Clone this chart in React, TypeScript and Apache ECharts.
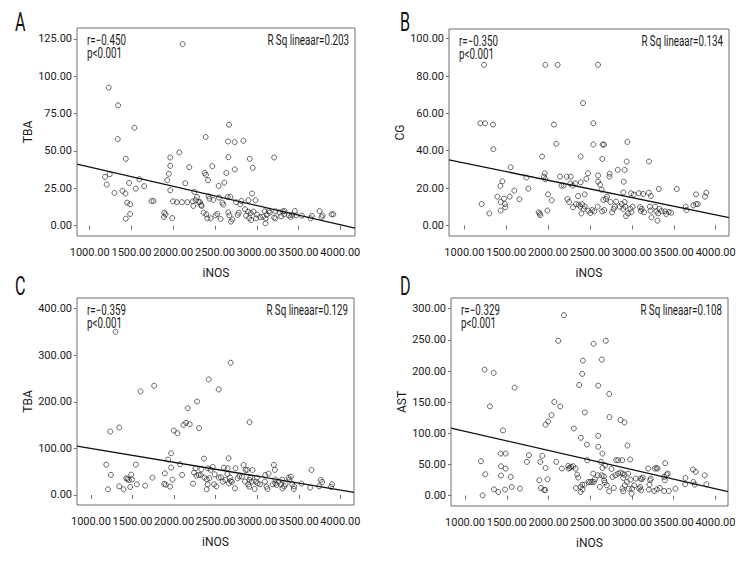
import React, { useEffect, useRef } from "react";
import * as echarts from "echarts";

// ---------- data ----------
const xTicks = [1000, 1500, 2000, 2500, 3000, 3500, 4000];
const yTicksA = [0, 25, 50, 75, 100, 125];
const yTicksB = [0, 20, 40, 60, 80, 100];
const yTicksC = [0, 100, 200, 300, 400];
const yTicksD = [0, 50, 100, 150, 200, 250, 300];

const panelLetters = ["A", "B", "C", "D"];
const yNames = ["TBA", "CG", "TBA", "AST"];
const xName = "iNOS";
const rTexts = ["r=\u22120.450", "r=\u22120.350", "r=\u22120.359", "r=\u22120.329"];
const pTexts = ["p<0.001", "p<0.001", "p<0.001", "p<0.001"];
const rsqTexts = ["R Sq lineaar=0.203", "R Sq lineaar=0.134", "R Sq lineaar=0.129", "R Sq lineaar=0.108"];

// fit line end points [x, y]
const fitA = [[848, 41.1], [4176, -1.6]];
const fitB = [[817, 35.1], [4159, 4.1]];
const fitC = [[832, 104.7], [4164, 5.7]];
const fitD = [[832, 108.4], [4151, 6.4]];

const aX = [2112,1228,1340,1536,1336,1432,1184,1240,1204,1296,1392,1428,1472,1448,1484,1432,1484,1552,1596,1652,1740,1764,1892,1888,1908,1928,1948,1964,1964,1964,1988,1996,2044,2072,2104,2144,2168,2192,2232,2240,2252,2268,2284,2304,2320,2332,2340,2364,2376,2388,2392,2396,2408,2416,2424,2432,2448,2468,2480,2508,2528,2544,2548,2568,2588,2600,2612,2636,2652,2656,2660,2660,2668,2672,2684,2692,2708,2736,2736,2752,2772,2784,2804,2816,2840,2860,2872,2896,2900,2908,2916,2928,2932,2944,2952,2960,2984,2992,3004,3040,3076,3096,3104,3108,3120,3144,3156,3208,3208,3224,3224,3272,3292,3312,3332,3328,3384,3404,3424,3456,3472,3540,3644,3660,3752,3776,3788,3896,3916];
const aY = [121.4,92.3,80.5,65.5,57.9,44.7,32.6,34.4,27.5,21.9,23.3,21.5,28.6,15.4,14.3,4.7,7.8,24.8,31.1,26.4,16.5,16.5,8.7,5.8,7.6,30.4,34.7,45.6,40.0,23.7,5.1,16.3,15.7,49.0,15.7,28.4,15.7,39.1,16.3,13.2,22.6,17.0,19.2,15.9,15.7,13.9,13.2,8.7,35.3,59.3,34.0,7.6,4.9,30.4,19.7,18.1,4.9,39.8,17.2,6.9,7.8,26.6,18.8,4.5,15.4,14.1,28.8,35.3,19.2,56.3,45.8,8.9,67.5,6.9,19.2,2.7,4.2,55.9,37.6,15.7,7.2,8.7,14.3,16.5,56.8,11.0,6.7,9.4,17.0,5.1,44.7,8.5,3.8,21.5,38.7,9.4,17.0,4.9,7.4,5.8,6.0,9.6,1.6,4.7,7.4,9.6,8.7,45.6,5.4,4.9,9.6,8.9,6.3,9.6,9.8,7.6,6.9,5.8,7.2,9.8,6.9,6.7,4.9,6.5,9.8,5.8,6.9,7.6,7.6];

const bX = [1235,1967,2114,2596,1191,1247,1342,2070,2417,2540,1346,2098,2540,2651,2667,2946,1553,1927,2389,2647,2938,3204,1207,1298,1394,1430,1454,1434,1434,1473,1485,1489,1541,1597,1657,1740,1764,1887,1899,1907,1951,1959,1967,1991,1999,2042,2142,2158,2186,2222,2230,2250,2270,2265,2293,2297,2325,2333,2357,2365,2385,2389,2397,2405,2425,2437,2437,2456,2476,2480,2504,2524,2552,2591,2596,2596,2620,2640,2644,2659,2671,2691,2703,2731,2735,2743,2763,2783,2795,2811,2831,2855,2879,2898,2902,2898,2914,2914,2922,2930,2954,2982,2990,2994,3010,3022,3082,3098,3106,3118,3134,3146,3202,3214,3226,3222,3234,3277,3293,3305,3313,3321,3329,3353,3397,3409,3440,3468,3536,3642,3650,3734,3766,3766,3786,3873,3889];
const bY = [86.0,86.0,86.0,86.0,54.7,54.7,54.0,54.0,65.5,54.7,40.8,43.7,43.3,43.3,43.3,44.7,31.1,36.9,36.9,35.6,34.2,34.2,11.4,6.4,15.4,21.1,23.6,12.5,7.9,14.3,11.4,9.7,15.4,18.6,14.0,25.6,19.7,7.0,6.3,5.5,26.1,27.9,24.7,7.9,16.6,13.4,26.1,21.3,21.3,26.1,14.1,12.5,26.1,22.4,21.3,9.7,22.5,11.4,15.7,11.1,10.0,23.1,6.4,11.3,8.8,16.6,10.2,24.9,27.9,7.9,6.6,8.2,7.5,10.0,26.7,23.4,21.8,19.1,7.5,13.6,8.2,14.1,15.4,26.1,27.7,12.5,7.0,8.8,10.0,12.7,29.7,10.0,11.4,8.8,23.4,17.7,29.7,12.5,10.0,5.0,6.4,8.9,17.2,7.0,10.0,16.5,17.2,9.7,7.7,8.8,16.8,7.0,17.5,10.0,15.7,7.9,4.3,10.0,7.5,2.5,6.4,19.5,8.8,7.7,7.5,6.1,7.2,6.8,19.5,10.0,8.2,10.7,11.4,16.6,11.4,15.4,17.5];

const cX = [1296,1596,1760,1232,1340,1996,2040,2164,2276,2112,2144,2188,2300,2416,2536,2680,2908,1184,1240,1204,1340,1392,1424,1440,1456,1472,1484,1492,1540,1552,1652,1740,1888,1880,1900,1928,1952,1964,1964,1980,2072,2096,2228,2240,2256,2268,2296,2320,2328,2360,2364,2392,2392,2404,2408,2424,2440,2464,2480,2488,2508,2536,2564,2588,2600,2616,2640,2644,2656,2660,2672,2680,2696,2732,2740,2764,2784,2816,2836,2852,2860,2880,2892,2904,2908,2916,2936,2944,2968,2984,2996,3004,3032,3092,3096,3112,3124,3136,3188,3200,3212,3216,3220,3232,3256,3284,3300,3304,3324,3340,3376,3388,3404,3420,3440,3444,3532,3636,3652,3744,3764,3780,3888,3900];
const cY = [350.5,222.2,234.4,136.2,144.8,138.3,132.6,186.4,200.7,150.5,154.8,152.0,143.4,248.0,226.5,283.9,156.3,65.2,43.0,12.2,18.6,12.2,35.8,34.4,32.3,17.2,43.7,33.0,65.2,22.9,20.1,37.3,46.6,23.7,22.2,76.0,17.9,58.8,89.6,33.0,65.9,43.0,24.4,48.0,57.3,41.6,43.0,43.0,55.2,78.1,37.3,12.2,33.7,22.9,57.3,35.8,53.8,60.2,22.9,44.4,18.6,37.3,38.0,28.7,58.8,32.3,45.2,57.3,78.8,25.1,37.3,30.1,28.0,14.3,57.3,35.8,40.1,39.4,64.5,28.7,53.8,53.8,22.9,17.9,32.3,37.3,28.7,53.8,12.9,28.7,37.3,25.1,22.9,28.7,43.0,17.9,12.9,45.9,22.9,64.5,53.8,25.1,33.0,21.5,28.7,22.9,33.0,14.3,18.6,22.9,37.3,33.0,39.4,22.9,12.9,18.6,24.4,15.8,53.8,18.6,32.3,28.0,17.2,22.9];

const dX = [2185,2117,2540,2687,2412,2639,1235,1343,2404,1594,1299,2141,2069,2037,1997,1965,2304,1455,2388,2460,2368,2596,2727,2731,2436,2596,2596,2863,2911,2947,1191,1243,1211,1347,1399,1427,1487,1431,1487,1431,1479,1547,1559,1658,1742,1766,1890,1902,1926,1910,1949,1965,1961,1989,2093,2161,2237,2241,2256,2272,2296,2324,2344,2356,2328,2384,2384,2404,2408,2432,2464,2480,2500,2520,2536,2544,2556,2592,2616,2628,2636,2647,2647,2663,2667,2679,2675,2699,2727,2755,2767,2783,2803,2811,2835,2835,2863,2883,2887,2895,2887,2895,2911,2915,2939,2955,2963,2979,2983,2995,3003,3027,3046,3086,3098,3102,3118,3130,3110,3194,3202,3210,3218,3226,3266,3274,3294,3306,3298,3334,3386,3394,3398,3414,3430,3442,3386,3521,3641,3637,3732,3764,3736,3752,3872,3892];
const dY = [289.8,248.5,243.7,248.5,216.8,218.4,202.3,197.0,195.4,173.4,143.3,143.3,150.3,129.3,119.1,113.8,107.9,104.7,92.8,82.1,177.6,176.6,163.2,126.1,133.6,96.1,78.4,121.3,117.5,80.5,55.3,34.3,0.5,10.2,5.9,67.6,67.6,47.2,43.5,32.2,9.7,30.1,14.0,11.3,54.2,64.9,24.7,54.2,63.9,12.3,9.1,44.5,9.1,26.3,54.2,43.5,47.8,43.5,44.5,46.2,47.2,43.5,33.8,29.0,12.3,14.0,5.9,17.7,10.2,17.7,56.9,22.0,22.0,22.0,35.4,22.0,26.3,32.7,14.0,54.2,32.7,67.6,44.5,31.1,24.7,48.8,20.9,16.6,7.0,42.9,30.1,12.3,32.7,56.9,56.9,35.4,37.0,56.9,35.4,28.4,11.3,7.0,33.8,16.6,22.0,35.4,11.3,58.0,25.8,3.2,11.3,16.6,27.4,11.3,14.0,27.4,26.3,29.0,8.6,43.5,9.7,17.7,24.7,27.4,7.5,43.5,44.5,43.5,10.2,12.3,30.1,24.7,52.1,33.8,35.4,7.5,7.5,11.3,28.4,18.2,41.9,38.1,22.0,17.7,32.7,18.2];

// ---------- layout / style ----------
const FONT = "Roboto, 'Noto Sans', sans-serif";
const TXT = "#1a1a1a";
const FRAME = "#6e6e6e";
const LBL = 11;
const NARROW = 0.7;

const panels = [
  { grid: { left: 77, top: 28, width: 278, height: 208 }, xr: [848, 4176], yr: [-6.9, 132.2], yt: yTicksA, xs: aX, ys: aY, fit: fitA, letter: [15, 9] },
  { grid: { left: 449, top: 29, width: 280, height: 207 }, xr: [817, 4159], yr: [-5.7, 105.2], yt: yTicksB, xs: bX, ys: bY, fit: fitB, letter: [400, 9] },
  { grid: { left: 77, top: 298, width: 277, height: 207 }, xr: [832, 4164], yr: [-21.5, 422.9], yt: yTicksC, xs: cX, ys: cY, fit: fitC, letter: [15, 273] },
  { grid: { left: 451, top: 298, width: 277, height: 208 }, xr: [832, 4151], yr: [-16.6, 317.2], yt: yTicksD, xs: dX, ys: dY, fit: fitD, letter: [400, 273] },
];

function buildOption() {
  const grid: any[] = [];
  const xAxis: any[] = [];
  const yAxis: any[] = [];
  const series: any[] = [];
  const graphic: any[] = [];

  panels.forEach((p, i) => {
    grid.push({ ...p.grid, show: true, borderColor: FRAME, borderWidth: 1, backgroundColor: "#fff", containLabel: false });
    xAxis.push({
      type: "value", gridIndex: i, min: p.xr[0], max: p.xr[1],
      name: xName, nameLocation: "middle", nameGap: 31,
      nameTextStyle: { fontFamily: FONT, fontSize: 12, color: TXT },
      axisLine: { show: false },
      axisTick: { show: true, length: 4, lineStyle: { color: FRAME }, customValues: xTicks },
      axisLabel: { fontFamily: FONT, fontSize: LBL, color: TXT, margin: 11, customValues: xTicks, showMinLabel: true, showMaxLabel: true, hideOverlap: false, formatter: (v: number) => v.toFixed(2) },
      splitLine: { show: false },
    });
    yAxis.push({
      type: "value", gridIndex: i, min: p.yr[0], max: p.yr[1],
      name: yNames[i], nameLocation: "middle", nameGap: 40,
      nameTextStyle: { fontFamily: FONT, fontSize: 12, color: TXT },
      axisLine: { show: false },
      axisTick: { show: true, length: 3, lineStyle: { color: FRAME }, customValues: p.yt },
      axisLabel: { fontFamily: FONT, fontSize: LBL, color: TXT, margin: 5, customValues: p.yt, showMinLabel: true, showMaxLabel: true, formatter: (v: number) => v.toFixed(2) },
      splitLine: { show: false },
    });
    series.push({
      type: "scatter", xAxisIndex: i, yAxisIndex: i,
      data: p.xs.map((x, k) => [x, p.ys[k]]),
      symbol: "circle", symbolSize: 5,
      itemStyle: { color: "rgba(255,255,255,0)", borderColor: "#2a2a2a", borderWidth: 0.9 },
      z: 3,
    });
    series.push({
      type: "line", xAxisIndex: i, yAxisIndex: i,
      data: p.fit, symbol: "none",
      lineStyle: { color: "#111", width: 1.3 }, z: 4,
    });
    const g = p.grid;
    graphic.push({ type: "text", x: p.letter[0], y: p.letter[1], scaleX: 0.62, style: { text: panelLetters[i], font: `26px ${FONT}`, fill: "#111", textVerticalAlign: "top" } });
    graphic.push({ type: "text", x: g.left + 10, y: g.top + 5, scaleX: NARROW, style: { text: rTexts[i], font: `14px ${FONT}`, fill: TXT, textVerticalAlign: "top" } });
    graphic.push({ type: "text", x: g.left + 10, y: g.top + 18, scaleX: NARROW, style: { text: pTexts[i], font: `14px ${FONT}`, fill: TXT, textVerticalAlign: "top" } });
    graphic.push({ type: "text", x: g.left + g.width - 6, y: g.top + 5, scaleX: NARROW, style: { text: rsqTexts[i], font: `14px ${FONT}`, fill: TXT, textAlign: "right", textVerticalAlign: "top" } });
  });

  return { animation: false, backgroundColor: "#fff", grid, xAxis, yAxis, series, graphic };
}

export default function App() {
  const ref = useRef<HTMLDivElement>(null);
  useEffect(() => {
    if (!ref.current) return;
    const chart = echarts.init(ref.current, undefined, { renderer: "svg" });
    chart.setOption(buildOption() as any);
    return () => chart.dispose();
  }, []);
  return <div ref={ref} style={{ position: "absolute", left: 0, top: 0, width: 756, height: 576, background: "#fff" }} />;
}
